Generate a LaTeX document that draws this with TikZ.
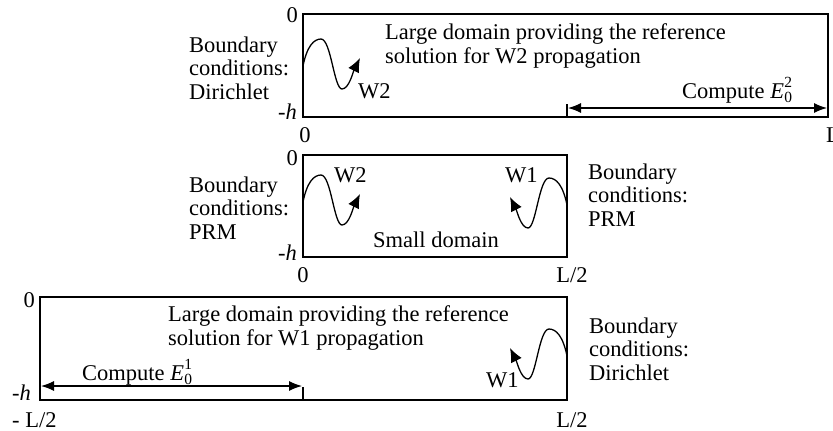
\documentclass[tikz,border=0pt]{standalone}
\usepackage{fontspec}
\setmainfont{Liberation Serif}
\usetikzlibrary{arrows.meta}
\newcommand{\smallfs}{\fontsize{15.5}{15.5}\selectfont}
\newcommand{\Ezero}[1]{\textit{E}\hspace{0.3pt}\rlap{\raisebox{-0.2em}{\smallfs 0}}\raisebox{0.45em}{\smallfs #1}}
\begin{document}
\begin{tikzpicture}[x=1pt,y=-1pt,
  txt/.style={inner sep=0pt, font=\fontsize{22.5}{23.3}\selectfont, align=left},
  box/.style={line width=1.2pt},
  tickline/.style={line width=1.2pt},
  wavetip/.style={line width=1.3pt, -{Latex[length=14pt,width=12pt]}},
  dbl/.style={line width=1.2pt, {Latex[length=13pt,width=10pt]}-{Latex[length=13pt,width=10pt]}},
  wave/.pic={\draw[wavetip] (0,0) .. controls (4,-20) and (11,-27) .. (18,-27)
      .. controls (28,-27) and (31,23) .. (39,23)
      .. controls (46,23) and (50,6) .. (57,-8);}
]
\useasboundingbox (0,0) rectangle (833,431);

% ---------- top box ----------
\coordinate (T1) at (303,14);
\coordinate (T2) at (828,117);
\draw[box] (T1) rectangle (T2);
\coordinate (Ttick) at (567,117);
\coordinate (Ttickup) at (567,104);
\draw[tickline] (Ttick) -- (Ttickup);
\coordinate (TarrL) at (568,108);
\coordinate (TarrR) at (827,108);
\draw[dbl] (TarrL) -- (TarrR);
\pic at (303,66) {wave};
\node[txt, anchor=base west] (tw2) at (358,98) {W2};
\node[txt, anchor=base west] (tlarge) at (385,63) {Large domain providing the reference\\solution for W2 propagation};
\node[txt, anchor=base west] (tcomp) at (682,98) {Compute \Ezero{2}};
\node[txt, anchor=base west] (tbc) at (189,99) {Boundary\\conditions:\\Dirichlet};
\node[txt, anchor=base east] (t0) at (298,23) {0};
\node[txt, anchor=base east] (th) at (297,119) {-\textit{h}};
\node[txt, anchor=base] (tx0) at (305,142) {0};
\node[txt, anchor=base west] (txL) at (826,142) {L};

% ---------- middle box ----------
\coordinate (M1) at (303,155);
\coordinate (M2) at (567,257);
\draw[box] (M1) rectangle (M2);
\pic at (303,202) {wave};
\pic[xscale=-1] at (567,205) {wave};
\node[txt, anchor=base west] (mw2) at (334,182) {W2};
\node[txt, anchor=base west] (mw1) at (505,182) {W1};
\node[txt, anchor=base west] (msmall) at (373,247) {Small domain};
\node[txt, anchor=base west] (mbcl) at (189,239) {Boundary\\conditions:\\PRM};
\node[txt, anchor=base west] (mbcr) at (588,226) {Boundary\\conditions:\\PRM};
\node[txt, anchor=base east] (m0) at (298,165) {0};
\node[txt, anchor=base east] (mh) at (297,260) {-\textit{h}};
\node[txt, anchor=base] (mx0) at (303,282) {0};
\node[txt, anchor=base] (mxL) at (572,282) {L/2};

% ---------- bottom box ----------
\coordinate (B1) at (40,297);
\coordinate (B2) at (567,400);
\draw[box] (B1) rectangle (B2);
\coordinate (Btick) at (303,400);
\coordinate (Btickup) at (303,387);
\draw[tickline] (Btick) -- (Btickup);
\coordinate (BarrL) at (41,386);
\coordinate (BarrR) at (302,386);
\draw[dbl] (BarrL) -- (BarrR);
\pic[xscale=-1] at (567,356) {wave};
\node[txt, anchor=base west] (bw1) at (486,387) {W1};
\node[txt, anchor=base west] (blarge) at (168,345) {Large domain providing the reference\\solution for W1 propagation};
\node[txt, anchor=base west] (bcomp) at (82,380) {Compute \Ezero{1}};
\node[txt, anchor=base west] (bbc) at (589,380) {Boundary\\conditions:\\Dirichlet};
\node[txt, anchor=base east] (b0) at (35,307) {0};
\node[txt, anchor=base west] (bh) at (12,400) {-\textit{h}};
\node[txt, anchor=base west] (bxl) at (12,427) {- L/2};
\node[txt, anchor=base] (bxL) at (572,427) {L/2};
\end{tikzpicture}
\end{document}
